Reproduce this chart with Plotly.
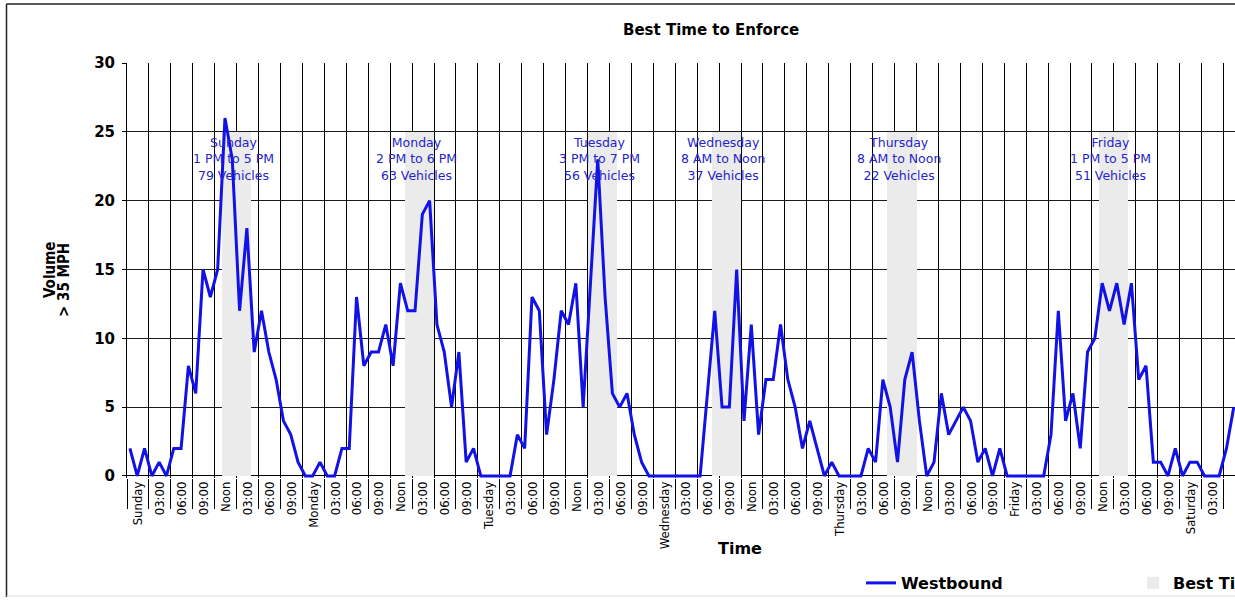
import plotly.graph_objects as go

# Hourly volume (> 35 MPH), Westbound
sunday    = [2, 0, 2, 0, 1, 0, 2, 2, 8, 6, 15, 13, 15, 26, 23, 12, 18, 9, 12, 9, 7, 4, 3, 1]
monday    = [0, 0, 1, 0, 0, 2, 2, 13, 8, 9, 9, 11, 8, 14, 12, 12, 19, 20, 11, 9, 5, 9, 1, 2]
tuesday   = [0, 0, 0, 0, 0, 3, 2, 13, 12, 3, 7, 12, 11, 14, 5, 14, 23, 13, 6, 5, 6, 3, 1, 0]
wednesday = [0, 0, 0, 0, 0, 0, 0, 6, 12, 5, 5, 15, 4, 11, 3, 7, 7, 11, 7, 5, 2, 4, 2, 0]
thursday  = [1, 0, 0, 0, 0, 2, 1, 7, 5, 1, 7, 9, 4, 0, 1, 6, 3, 4, 5, 4, 1, 2, 0, 2]
friday    = [0, 0, 0, 0, 0, 0, 3, 12, 4, 6, 2, 9, 10, 14, 12, 14, 11, 14, 7, 8, 1, 1, 0, 2]
saturday  = [0, 1, 1, 0, 0, 0, 2, 5]

day_names = ["Sunday", "Monday", "Tuesday", "Wednesday", "Thursday", "Friday", "Saturday"]
hour_labels = ["03:00", "06:00", "09:00", "Noon", "03:00", "06:00", "09:00"]

# Best time to enforce windows (start hour, end hour within day)
band_days = ["Sunday", "Monday", "Tuesday", "Wednesday", "Thursday", "Friday"]
band_start = [13, 14, 15, 8, 8, 13]
band_end = [17, 18, 19, 12, 12, 17]
band_text = ["1 PM to 5 PM", "2 PM to 6 PM", "3 PM to 7 PM", "8 AM to Noon", "8 AM to Noon", "1 PM to 5 PM"]
band_counts = [79, 63, 56, 37, 22, 51]
band_height = 25

values = sunday + monday + tuesday + wednesday + thursday + friday + saturday
hours = [i + 0.4 for i in range(len(values))]

# tick labels centred between the 3-hour gridlines
tickvals, ticktext = [], []
for d, name in enumerate(day_names):
    labels = [name] + hour_labels
    for k, lab in enumerate(labels):
        tickvals.append(d * 24 + k * 3 + 1.5)
        ticktext.append(lab)

band_centers = [day_names.index(d) * 24 + (s + e) / 2 for d, s, e in zip(band_days, band_start, band_end)]
band_widths = [e - s for s, e in zip(band_start, band_end)]

fig = go.Figure()
fig.add_trace(go.Bar(
    x=band_centers, y=[band_height] * len(band_centers), width=band_widths,
    marker=dict(color="#ebebeb", line=dict(width=0)),
    name="Best Time to Enforce", legend="legend2", hoverinfo="skip",
))
fig.add_trace(go.Scatter(
    x=hours, y=values, mode="lines", name="Westbound",
    line=dict(color="#1212e6", width=3), legend="legend",
))

PLOT_L, PLOT_T, PLOT_W, PLOT_H = 127, 63, 1108, 415
YMIN, YMAX = -0.15, 30


def px_to_paper_x(px):
    return (px - PLOT_L) / PLOT_W


def px_to_paper_y(py):
    return (PLOT_T + PLOT_H - py) / PLOT_H


def py_to_data(py):
    return YMAX - (py - PLOT_T) * (YMAX - YMIN) / PLOT_H


annotations = []
blue = "#2626c8"
for c, d, t, n in zip(band_centers, band_days, band_text, band_counts):
    annotations.append(dict(
        x=c, y=py_to_data(158.5), xref="x", yref="y",
        text=f"{d}<br>{t}<br>{n} Vehicles", showarrow=False,
        xanchor="center", yanchor="middle", xshift=-3, align="center",
        font=dict(family="DejaVu Sans", size=12.5, color=blue),
    ))

annotations += [
    dict(x=px_to_paper_x(711), y=px_to_paper_y(30), xref="paper", yref="paper",
         text="<b>Best Time to Enforce</b>", showarrow=False, xanchor="center", yanchor="middle",
         font=dict(family="DejaVu Sans", size=15, color="black")),
    dict(x=px_to_paper_x(740), y=px_to_paper_y(548), xref="paper", yref="paper",
         text="<b>Time</b>", showarrow=False, xanchor="center", yanchor="middle",
         font=dict(family="DejaVu Sans", size=16, color="black")),
    dict(x=px_to_paper_x(50), y=px_to_paper_y(270), xref="paper", yref="paper",
         text="<b>Volume</b>", showarrow=False, textangle=-90, xanchor="center", yanchor="middle",
         font=dict(family="DejaVu Sans Condensed, Liberation Sans Narrow, sans-serif", size=15, color="black")),
    dict(x=px_to_paper_x(64), y=px_to_paper_y(280), xref="paper", yref="paper",
         text="<b>&gt; 35 MPH</b>", showarrow=False, textangle=-90, xanchor="center", yanchor="middle",
         font=dict(family="DejaVu Sans Condensed, Liberation Sans Narrow, sans-serif", size=15, color="black")),
]

shapes = [
    dict(type="line", xref="paper", yref="paper", x0=px_to_paper_x(6.5), x1=px_to_paper_x(1240),
         y0=px_to_paper_y(4), y1=px_to_paper_y(4), line=dict(color="#222", width=1.5)),
    dict(type="line", xref="paper", yref="paper", x0=px_to_paper_x(6.5), x1=px_to_paper_x(6.5),
         y0=px_to_paper_y(4), y1=px_to_paper_y(597), line=dict(color="#222", width=1.5)),
    dict(type="line", xref="paper", yref="paper", x0=px_to_paper_x(6.5), x1=px_to_paper_x(1240),
         y0=px_to_paper_y(596), y1=px_to_paper_y(596), line=dict(color="#dddddd", width=1)),
]

fig.update_layout(
    width=1235, height=603,
    margin=dict(l=PLOT_L, r=1235 - PLOT_L - PLOT_W, t=PLOT_T, b=603 - PLOT_T - PLOT_H, autoexpand=False),
    paper_bgcolor="white", plot_bgcolor="white",
    bargap=0, showlegend=True,
    annotations=annotations, shapes=shapes,
    legend=dict(orientation="h", x=px_to_paper_x(861), y=px_to_paper_y(583), xanchor="left", yanchor="middle",
                font=dict(family="DejaVu Sans", size=16, color="black", weight="bold"),
                bgcolor="rgba(0,0,0,0)"),
    legend2=dict(orientation="h", x=px_to_paper_x(1133), y=px_to_paper_y(583), xanchor="left", yanchor="middle",
                 font=dict(family="DejaVu Sans", size=16, color="black", weight="bold"),
                 bgcolor="rgba(0,0,0,0)"),
    xaxis=dict(
        range=[0, 151.57], tickmode="array", tickvals=tickvals, ticktext=ticktext,
        tickangle=-90, ticks="", showgrid=False, showline=False, zeroline=False,
        tickfont=dict(family="DejaVu Sans Condensed, Liberation Sans Narrow, sans-serif", size=13, color="black"),
        ticklabelstandoff=0,
        minor=dict(tick0=0, dtick=3, showgrid=True, gridcolor="black", gridwidth=1,
                   ticks="outside", ticklen=30, tickcolor="black", tickwidth=1),
    ),
    yaxis=dict(
        range=[YMIN, YMAX], tickmode="array", tickvals=[0, 5, 10, 15, 20, 25, 30],
        showgrid=True, gridcolor="#1a1a1a", gridwidth=1,
        zeroline=True, zerolinecolor="black", zerolinewidth=1,
        showline=True, linecolor="black", linewidth=1,
        ticks="outside", ticklen=4, tickcolor="black", ticklabelstandoff=4,
        tickfont=dict(family="DejaVu Sans", size=15, color="black", weight="bold"),
    ),
)

fig.write_html(
    "out.html",
    config={"displayModeBar": False},
    post_script="document.body.style.margin='0';document.body.style.overflow='hidden';",
)
